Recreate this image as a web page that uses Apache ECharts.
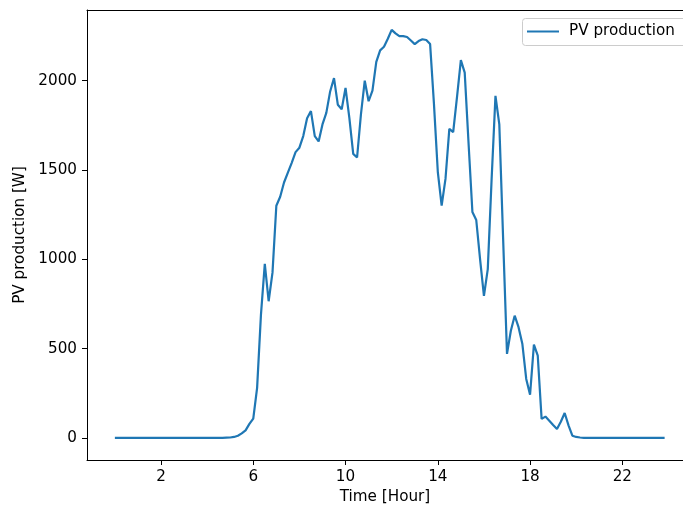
<!DOCTYPE html>
<html>
<head>
<meta charset="utf-8">
<script src="https://cdn.jsdelivr.net/npm/echarts@6/dist/echarts.min.js"></script>
<style>
html,body{margin:0;padding:0;background:#fff;}
#chart{width:683px;height:510px;}
</style>
</head>
<body>
<div id="chart"></div>
<script>
// Sampling step of the time series (10 minutes, in hours)
var stepHours = 1 / 6;
var seriesName = 'PV production';
var xTickValues = [2, 6, 10, 14, 18, 22];
var yTickValues = [0, 500, 1000, 1500, 2000];
var xAxisTitle = 'Time [Hour]';
var yAxisTitle = 'PV production [W]';

// PV production [W], one value per 10 minutes from 00:00 to 23:50
var pvProduction = [
  0, 0, 0, 0, 0, 0, 0, 0, 0, 0, 0, 0,
  0, 0, 0, 0, 0, 0, 0, 0, 0, 0, 0, 0,
  0, 0, 0, 0, 0, 1, 2, 5, 12, 25, 42, 78,
  108, 280, 690, 975, 765, 925, 1300, 1350, 1430, 1485, 1540, 1600,
  1625, 1690, 1790, 1830, 1690, 1660, 1755, 1820, 1940, 2015, 1865, 1840,
  1960, 1790, 1590, 1570, 1810, 2000, 1885, 1945, 2105, 2170, 2190, 2235,
  2285, 2265, 2250, 2250, 2245, 2225, 2205, 2222, 2232, 2228, 2205, 1870,
  1490, 1300, 1450, 1730, 1712, 1910, 2115, 2045, 1650, 1265, 1220, 1000,
  795, 945, 1450, 1915, 1755, 1110, 470, 600, 684, 620, 525, 330,
  242, 522, 460, 106, 119, 96, 72, 50, 90, 139, 70, 12,
  5, 2, 0, 0, 0, 0, 0, 0, 0, 0, 0, 0,
  0, 0, 0, 0, 0, 0, 0, 0, 0, 0, 0, 0
];

var points = pvProduction.map(function (v, i) { return [i * stepHours, v]; });

var FONT = 'DejaVu Sans';
var FS = 15.2;
function plain(v) { return String(v); }

var chart = echarts.init(document.getElementById('chart'), null, {renderer: 'canvas'});
chart.setOption({
  animation: false,
  backgroundColor: '#ffffff',
  textStyle: {fontFamily: FONT},
  grid: {left: 87, right: 0, top: 10, bottom: 50, containLabel: false},
  graphic: [{
    type: 'rect', z: 3, silent: true,
    shape: {x: 522.5, y: 18.5, width: 200, height: 27, r: 3},
    style: {fill: 'rgba(255,255,255,0.8)', stroke: '#cccccc', lineWidth: 1}
  }],
  legend: {
    data: [{name: seriesName, icon: 'rect'}],
    left: 522, top: 18, z: 4,
    itemWidth: 32, itemHeight: 2,
    padding: [6, 8, 6, 5],
    textStyle: {fontFamily: FONT, fontSize: FS, color: '#000', padding: [0, 0, 0, 5]}
  },
  xAxis: [{
    type: 'value', min: -1.208, max: 24.63,
    name: xAxisTitle, nameLocation: 'middle', nameGap: 30,
    nameTextStyle: {fontFamily: FONT, fontSize: FS, color: '#000'},
    axisLine: {show: true, onZero: false, lineStyle: {color: '#000', width: 1}},
    axisTick: {show: true, length: 5, customValues: xTickValues, lineStyle: {color: '#000', width: 1}},
    axisLabel: {show: true, customValues: xTickValues, margin: 10, fontFamily: FONT, fontSize: FS, color: '#000', formatter: plain},
    splitLine: {show: false}
  }, {
    type: 'value', position: 'top', min: -1.208, max: 24.63,
    axisLine: {show: true, onZero: false, lineStyle: {color: '#000', width: 1}},
    axisTick: {show: false}, axisLabel: {show: false}, splitLine: {show: false}
  }],
  yAxis: {
    type: 'value', min: -124, max: 2396,
    name: yAxisTitle, nameLocation: 'middle', nameGap: 50,
    nameTextStyle: {fontFamily: FONT, fontSize: FS, color: '#000'},
    axisLine: {show: true, onZero: false, lineStyle: {color: '#000', width: 1}},
    axisTick: {show: true, length: 5, customValues: yTickValues, lineStyle: {color: '#000', width: 1}},
    axisLabel: {show: true, customValues: yTickValues, margin: 10, fontFamily: FONT, fontSize: FS, color: '#000', formatter: plain},
    splitLine: {show: false}
  },
  series: [{
    name: seriesName, type: 'line', xAxisIndex: 0,
    data: points, showSymbol: false, symbol: 'none',
    lineStyle: {color: '#1f77b4', width: 2.2},
    itemStyle: {color: '#1f77b4'}
  }]
});
</script>
</body>
</html>
